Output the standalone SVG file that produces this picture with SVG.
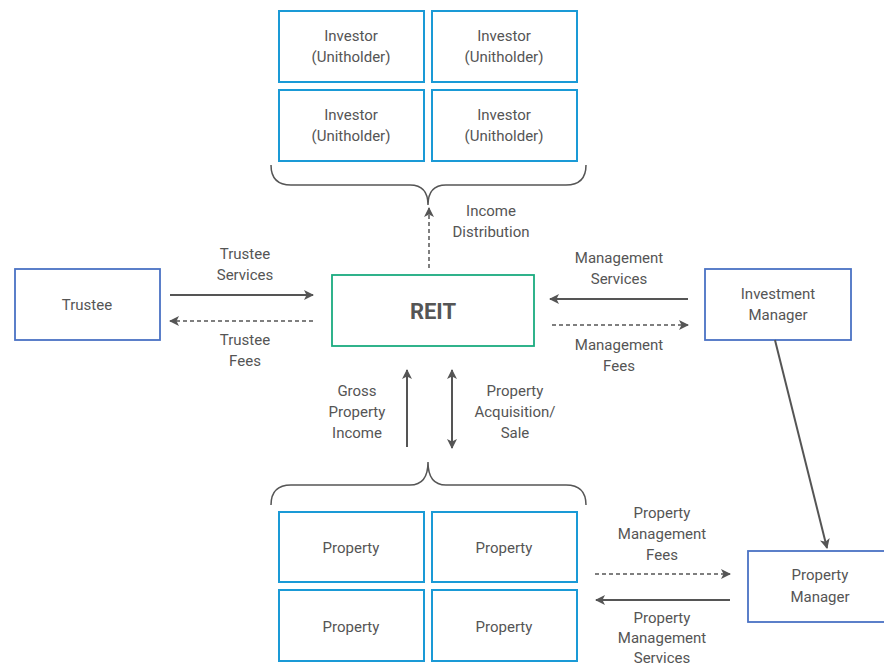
<svg xmlns="http://www.w3.org/2000/svg" width="884" height="667" viewBox="0 0 884 667">
<style>
text{font-family:Roboto,"Noto Sans","Liberation Sans",sans-serif;font-size:15px;fill:#555;text-anchor:middle}
.bb{fill:#fff;stroke:#1a9ad6;stroke-width:2}
.pb{fill:#fff;stroke:#4a72c4;stroke-width:1.8}
.ln{fill:none;stroke:#555;stroke-width:2}
.ds{fill:none;stroke:#555;stroke-width:1.5;stroke-dasharray:4 3}
.br{fill:none;stroke:#555;stroke-width:1.5}
</style>
<defs>
<marker id="ah" viewBox="0 0 10 10" refX="9" refY="5" markerWidth="10" markerHeight="10" markerUnits="userSpaceOnUse" orient="auto-start-reverse">
<path d="M0,0 L10,5 L0,10 L2.5,5 Z" fill="#555"/>
</marker>
</defs>
<g id="investor1"><rect class="bb" x="279" y="11" width="145" height="71"/><text x="351" y="41">Investor</text><text x="351" y="62">(Unitholder)</text></g>
<g id="investor2"><rect class="bb" x="432" y="11" width="145" height="71"/><text x="504" y="41">Investor</text><text x="504" y="62">(Unitholder)</text></g>
<g id="investor3"><rect class="bb" x="279" y="90" width="145" height="71"/><text x="351" y="120">Investor</text><text x="351" y="141">(Unitholder)</text></g>
<g id="investor4"><rect class="bb" x="432" y="90" width="145" height="71"/><text x="504" y="120">Investor</text><text x="504" y="141">(Unitholder)</text></g>
<g id="reit"><rect x="332" y="275" width="202" height="71" fill="#fff" stroke="#1aab7f" stroke-width="1.8"/><text x="433" y="319" style="font-size:22px;font-weight:bold">REIT</text></g>
<g id="trustee"><rect class="pb" x="15" y="269" width="145" height="71"/><text x="87" y="310">Trustee</text></g>
<g id="investment-manager"><rect class="pb" x="705" y="269" width="146" height="71"/><text x="778" y="299">Investment</text><text x="778" y="320">Manager</text></g>
<g id="property1"><rect class="bb" x="279" y="512" width="145" height="70"/><text x="351" y="553">Property</text></g>
<g id="property2"><rect class="bb" x="432" y="512" width="145" height="70"/><text x="504" y="553">Property</text></g>
<g id="property3"><rect class="bb" x="279" y="590" width="145" height="71"/><text x="351" y="632">Property</text></g>
<g id="property4"><rect class="bb" x="432" y="590" width="145" height="71"/><text x="504" y="632">Property</text></g>
<g id="property-manager"><rect class="pb" x="748" y="551" width="146" height="71"/><text x="820" y="580">Property</text><text x="820" y="602">Manager</text></g>
<g id="connectors">
<path class="br" d="M271,165 Q271,185 291,185 L410,185 Q428,185 428,205 Q428,185 446,185 L566,185 Q586,185 586,165"/>
<path class="br" d="M271,505 Q271,485 291,485 L410,485 Q428,485 428,462 Q428,485 446,485 L566,485 Q586,485 586,505"/>
<line class="ds" x1="429" y1="268" x2="429" y2="208" marker-end="url(#ah)"/>
<line class="ln" x1="170" y1="295" x2="313" y2="295" marker-end="url(#ah)"/>
<line class="ds" x1="313" y1="321" x2="170" y2="321" marker-end="url(#ah)"/>
<line class="ln" x1="688" y1="299" x2="550" y2="299" marker-end="url(#ah)"/>
<line class="ds" x1="552" y1="325" x2="688" y2="325" marker-end="url(#ah)"/>
<line class="ln" x1="407" y1="447" x2="407" y2="370" marker-end="url(#ah)"/>
<line class="ln" x1="452" y1="448" x2="452" y2="370" marker-start="url(#ah)" marker-end="url(#ah)"/>
<line class="ln" x1="775" y1="340" x2="827" y2="548" marker-end="url(#ah)"/>
<line class="ds" x1="595" y1="574" x2="730" y2="574" marker-end="url(#ah)"/>
<line class="ln" x1="730" y1="600" x2="596" y2="600" marker-end="url(#ah)"/>
</g>
<g id="labels">
<text x="491" y="216">Income</text><text x="491" y="237">Distribution</text>
<text x="245" y="259">Trustee</text><text x="245" y="280">Services</text>
<text x="245" y="345">Trustee</text><text x="245" y="366">Fees</text>
<text x="619" y="263">Management</text><text x="619" y="284">Services</text>
<text x="619" y="350">Management</text><text x="619" y="371">Fees</text>
<text x="357" y="396">Gross</text><text x="357" y="417">Property</text><text x="357" y="438">Income</text>
<text x="515" y="396">Property</text><text x="515" y="417">Acquisition/</text><text x="515" y="438">Sale</text>
<text x="662" y="518">Property</text><text x="662" y="539">Management</text><text x="662" y="560">Fees</text>
<text x="662" y="623">Property</text><text x="662" y="643">Management</text><text x="662" y="663">Services</text>
</g>
</svg>
